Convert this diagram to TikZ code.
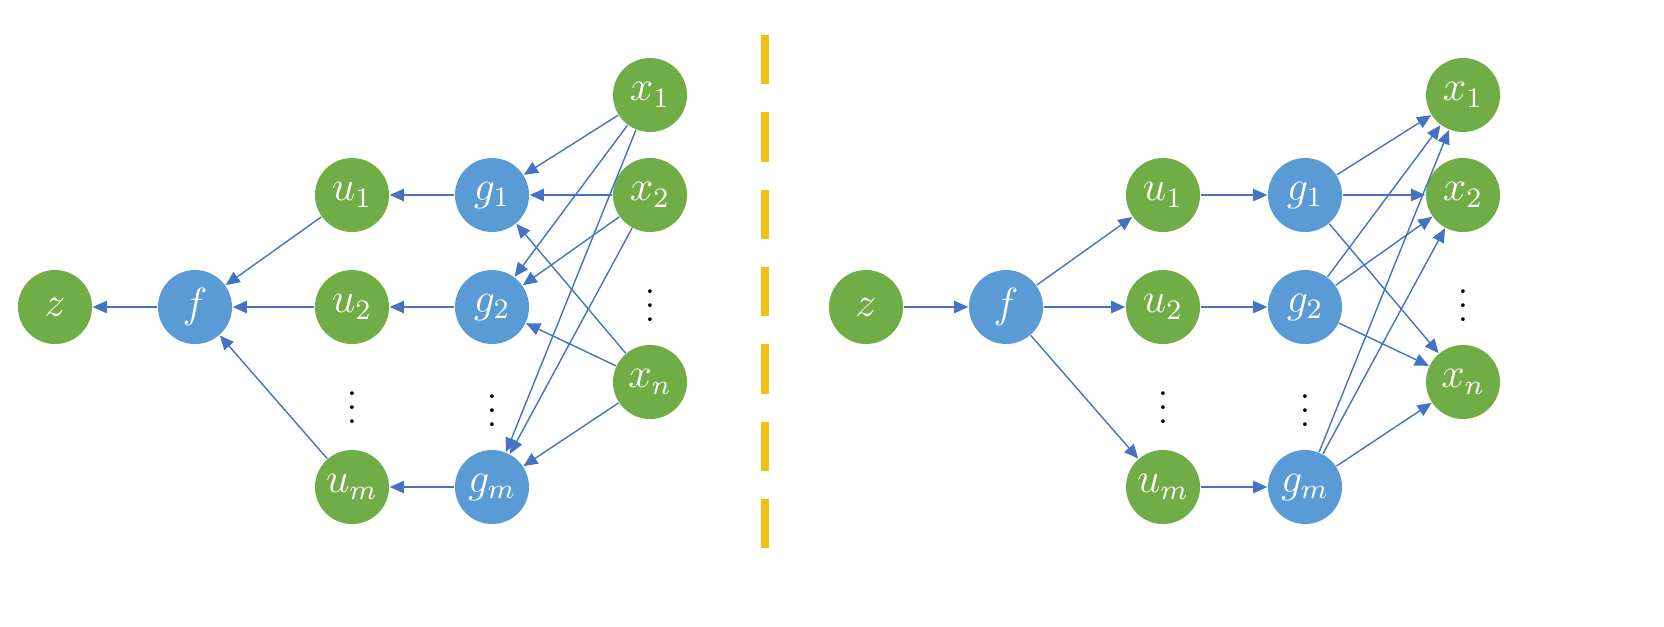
\documentclass[tikz,border=0pt]{standalone}
\usetikzlibrary{arrows.meta}
\definecolor{gr}{HTML}{70AD47}
\definecolor{bl}{HTML}{5B9BD5}
\definecolor{ar}{HTML}{4472C4}
\definecolor{og}{HTML}{F2C012}
\begin{document}
\begin{tikzpicture}[x=0.01cm,y=-0.01cm,
 G/.style={circle,fill=gr,minimum size=0.74cm,inner sep=0pt,text=white,font=\large},
 B/.style={circle,fill=bl,minimum size=0.74cm,inner sep=0pt,text=white,font=\large},
 e/.style={draw=ar,line width=0.4pt,-{Triangle[length=4pt,width=3.5pt]}},
 d/.style={font=\normalsize}]
\draw[og,line width=2.2pt,dash pattern=on 14pt off 8pt] (765,35) -- (765,565);
% left
\node[G] (z) at (55,307) {$z$};
\node[B] (f) at (195,307) {$f$};
\node[G] (u1) at (352,195) {$u_1$};
\node[G] (u2) at (352,307) {$u_2$};
\node[G] (um) at (352,487) {$u_m$};
\node[B] (g1) at (492,195) {$g_1$};
\node[B] (g2) at (492,307) {$g_2$};
\node[B] (gm) at (492,487) {$g_m$};
\node[G] (x1) at (650,95) {$x_1$};
\node[G] (x2) at (650,195) {$x_2$};
\node[G] (xn) at (650,382) {$x_n$};
\node[d] (d1) at (352,397) {$\vdots$};
\node[d] (d2) at (492,400) {$\vdots$};
\node[d] (d3) at (650,295) {$\vdots$};
\draw[e] (f) -- (z);
\foreach \i in {1,2,m}{\draw[e] (g\i) -- (u\i); \draw[e] (u\i) -- (f);}
\foreach \k in {1,2,n}{\foreach \i in {1,2,m}{\draw[e] (x\k) -- (g\i);}}
% right
\node[G] (Z) at (866,307) {$z$};
\node[B] (F) at (1006,307) {$f$};
\node[G] (U1) at (1163,195) {$u_1$};
\node[G] (U2) at (1163,307) {$u_2$};
\node[G] (Um) at (1163,487) {$u_m$};
\node[B] (G1) at (1305,195) {$g_1$};
\node[B] (G2) at (1305,307) {$g_2$};
\node[B] (Gm) at (1305,487) {$g_m$};
\node[G] (X1) at (1463,95) {$x_1$};
\node[G] (X2) at (1463,195) {$x_2$};
\node[G] (Xn) at (1463,382) {$x_n$};
\node[d] (D1) at (1163,397) {$\vdots$};
\node[d] (D2) at (1305,400) {$\vdots$};
\node[d] (D3) at (1463,295) {$\vdots$};
\draw[e] (Z) -- (F);
\foreach \i in {1,2,m}{\draw[e] (U\i) -- (G\i); \draw[e] (F) -- (U\i);}
\foreach \k in {1,2,n}{\foreach \i in {1,2,m}{\draw[e] (G\i) -- (X\k);}}
\pgfresetboundingbox
\useasboundingbox (0,0) rectangle (1664,626);
\end{tikzpicture}
\end{document}
